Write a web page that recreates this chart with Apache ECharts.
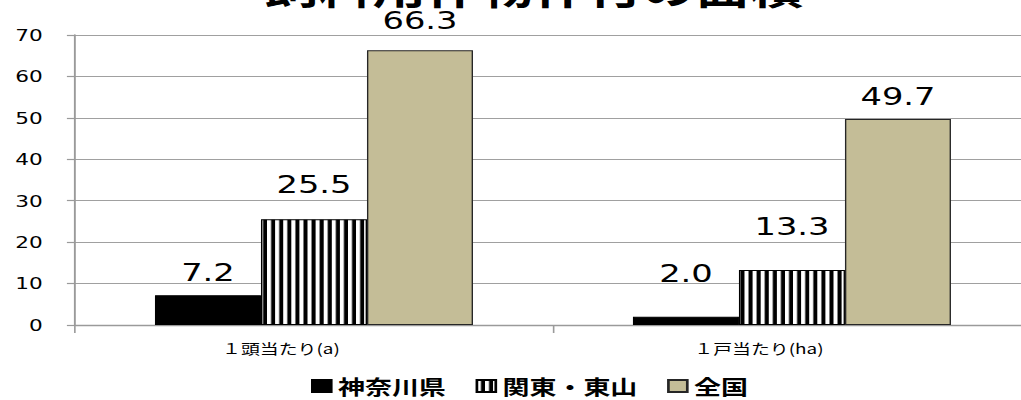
<!DOCTYPE html>
<html>
<head>
<meta charset="utf-8">
<script src="https://cdn.jsdelivr.net/npm/echarts@6/dist/echarts.min.js"></script>
<style>
  html, body { margin: 0; padding: 0; background: #fff; overflow: hidden; width: 1021px; height: 400px; }
  /* the chart is laid out narrow and widened horizontally */
  #chart { width: 757px; height: 400px; transform: scaleX(1.3487); transform-origin: 0 0; }
</style>
</head>
<body>
<div id="chart"></div>
<script>
// 飼料作物の作付面積
const categories = ['１頭当たり(a)', '１戸当たり(ha)'];
const seriesNames = ['神奈川県', '関東・東山', '全国'];
const kanagawa = [7.2, 2.0];
const kantoTosan = [25.5, 13.3];
const national = [66.3, 49.7];
const yMin = 0, yMax = 70, yStep = 10;

// gap between each bar top and its value label
const labelGap = [[11, 31], [23, 31], [18, 10]];

// vertical black/white stripe fill
function stripeFill() {
  const c = document.createElement('canvas');
  c.width = 6; c.height = 6;
  const g = c.getContext('2d');
  g.fillStyle = '#ffffff'; g.fillRect(0, 0, 6, 6);
  g.fillStyle = '#000000'; g.fillRect(3, 0, 3, 6);
  return { image: c, repeat: 'repeat' };
}

const fills = [
  { color: '#000000', borderColor: '#000000' },
  { color: stripeFill(), borderColor: '#000000' },
  { color: '#C4BD97', borderColor: '#262626' }
];
const values = [kanagawa, kantoTosan, national];

const chart = echarts.init(document.getElementById('chart'), null, { renderer: 'svg' });

chart.setOption({
  animation: false,
  title: {
    text: '飼料用作物作付の面積',
    left: 191, top: -38,
    textStyle: { fontFamily: 'Noto Sans CJK JP', fontSize: 40, fontWeight: 'bold', color: '#000' }
  },
  legend: {
    left: 225.6, top: 371,
    icon: 'rect', itemWidth: 14, itemHeight: 12, itemGap: 22,
    data: seriesNames,
    textStyle: { fontFamily: 'Noto Sans CJK JP', fontSize: 20, fontWeight: 'bold', color: '#000' }
  },
  grid: { left: 55.6, right: -7.4, top: 35, bottom: 75, outerBoundsMode: 'none' },
  xAxis: {
    type: 'category',
    data: categories,
    axisLine: { lineStyle: { color: '#9A9A9A', width: 1.4 } },
    axisTick: { show: true, length: 8, lineStyle: { color: '#9A9A9A', width: 1.2 } },
    axisLabel: {
      margin: 16, padding: [0, 49, 0, 0],
      fontFamily: 'Noto Sans CJK JP', fontSize: 14, color: '#000'
    }
  },
  yAxis: {
    type: 'value', min: yMin, max: yMax, interval: yStep,
    axisLine: { show: true, lineStyle: { color: '#9A9A9A', width: 1.4 } },
    axisTick: { show: true, length: 6, lineStyle: { color: '#9A9A9A', width: 1.2 } },
    splitLine: { lineStyle: { color: '#A0A0A0', width: 1.2 } },
    axisLabel: { margin: 24, fontFamily: 'DejaVu Sans', fontSize: 16, color: '#000' }
  },
  series: seriesNames.map((name, s) => ({
    name: name,
    type: 'bar',
    barWidth: 78.6,
    barGap: '0%',
    itemStyle: { color: fills[s].color, borderColor: fills[s].borderColor, borderWidth: 1 },
    label: {
      show: true, position: 'top',
      fontFamily: 'DejaVu Sans', fontSize: 25, color: '#000',
      formatter: p => p.value.toFixed(1)
    },
    data: values[s].map((v, i) => ({ value: v, label: { distance: labelGap[s][i] } }))
  }))
});
</script>
</body>
</html>
